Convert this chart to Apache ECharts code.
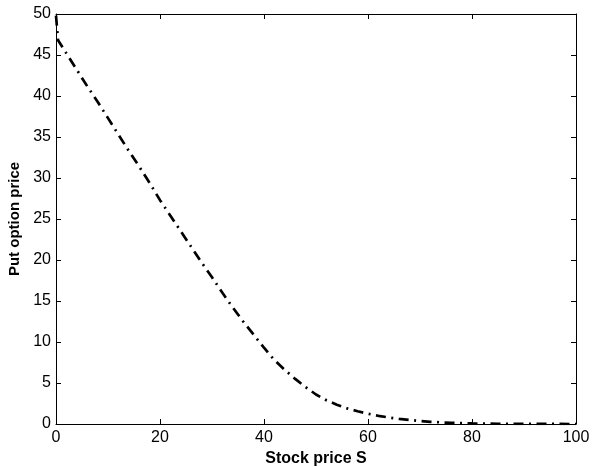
<!DOCTYPE html>
<html>
<head>
<meta charset="utf-8">
<script src="https://cdn.jsdelivr.net/npm/echarts@6/dist/echarts.min.js"></script>
<style>html,body{margin:0;padding:0;background:#fff}#c{width:593px;height:467px}</style>
</head>
<body>
<div id="c"></div>
<script>
const stockPrice = [0, 0.4, 2, 4, 6, 8, 10, 12, 14, 16, 18, 20, 22, 24, 26, 28, 30, 32, 34, 36, 38, 40, 42, 44, 46, 48, 50, 52, 54, 56, 58, 60, 62, 64, 66, 68, 70, 72, 74, 76, 78, 80, 85, 90, 95, 100];
const putPrice = [49.8, 46.8, 45.2, 43.2, 41.2, 39.3, 37.3, 35.3, 33.3, 31.4, 29.4, 27.3, 25.4, 23.5, 21.6, 19.7, 17.9, 16.0, 14.2, 12.5, 10.9, 9.3, 7.8, 6.6, 5.5, 4.5, 3.6, 2.9, 2.35, 1.9, 1.55, 1.25, 1.0, 0.8, 0.62, 0.48, 0.37, 0.27, 0.2, 0.14, 0.1, 0.07, 0.03, 0.012, 0.005, 0.0];
const xTicks = [0, 20, 40, 60, 80, 100];
const yTicks = [0, 5, 10, 15, 20, 25, 30, 35, 40, 45, 50];

const font = 'Liberation Sans, Arial, Helvetica, sans-serif';
const axisLine = {show: true, onZero: false, lineStyle: {color: '#000', width: 1}};
const tick = {show: true, inside: true, length: 5, lineStyle: {color: '#000', width: 1}};
const lbl = {color: '#000', fontSize: 16, fontFamily: font};

const chart = echarts.init(document.getElementById('c'), null, {renderer: 'canvas'});
chart.setOption({
  animation: false,
  backgroundColor: '#fff',
  grid: {left: 56, right: 17, top: 14, bottom: 43, containLabel: false, outerBoundsMode: 'none'},
  xAxis: [{
    type: 'value', min: xTicks[0], max: xTicks[xTicks.length - 1], interval: 20,
    position: 'bottom',
    axisLine: axisLine, axisTick: tick, splitLine: {show: false},
    axisLabel: Object.assign({margin: 6}, lbl),
    name: 'Stock price S', nameLocation: 'middle', nameGap: 25,
    nameTextStyle: {color: '#000', fontSize: 16, fontWeight: 'bold', fontFamily: font}
  }, {
    type: 'value', min: xTicks[0], max: xTicks[xTicks.length - 1], interval: 20,
    position: 'top',
    axisLine: axisLine, axisTick: tick, splitLine: {show: false}, axisLabel: {show: false}
  }],
  yAxis: [{
    type: 'value', min: yTicks[0], max: yTicks[yTicks.length - 1], interval: 5,
    position: 'left',
    axisLine: axisLine, axisTick: tick, splitLine: {show: false},
    axisLabel: Object.assign({margin: 5}, lbl),
    name: 'Put option price', nameLocation: 'middle', nameGap: 31, nameRotate: 90,
    nameTextStyle: {color: '#000', fontSize: 15, fontWeight: 'bold', fontFamily: font}
  }, {
    type: 'value', min: yTicks[0], max: yTicks[yTicks.length - 1], interval: 5,
    position: 'right',
    axisLine: axisLine, axisTick: tick, splitLine: {show: false}, axisLabel: {show: false}
  }],
  series: [{
    type: 'line',
    data: stockPrice.map((s, i) => [s, putPrice[i]]),
    showSymbol: false,
    smooth: false,
    clip: true,
    lineStyle: {color: '#000', width: 2.7, type: [10, 5.5, 2, 5.5], cap: 'butt'}
  }]
});
</script>
</body>
</html>
